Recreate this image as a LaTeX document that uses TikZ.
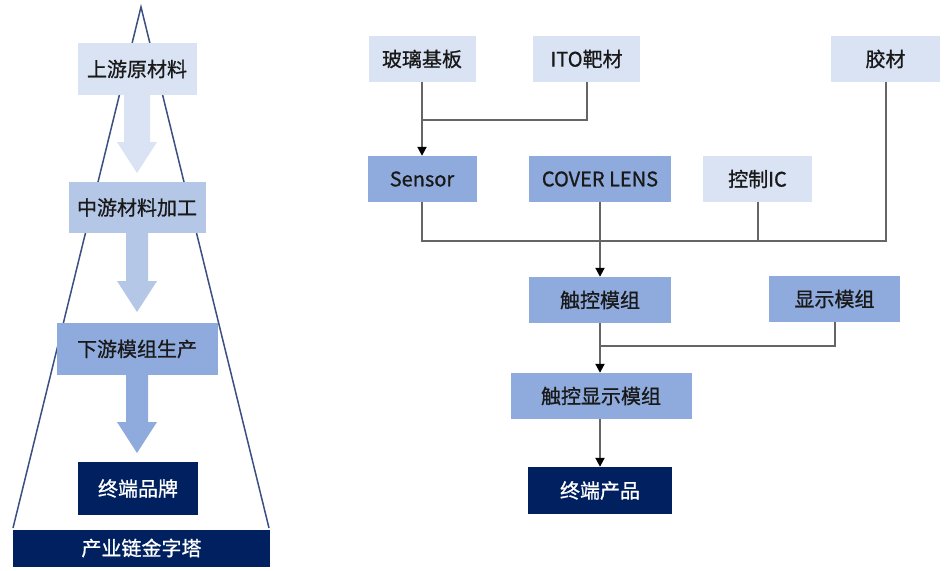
\documentclass[tikz,border=0pt]{standalone}
\usepackage{fontspec}
\setmainfont{Noto Sans CJK SC}
\newfontfamily\boxfont{Noto Sans CJK SC}[FakeBold=0.9]
\usetikzlibrary{arrows.meta}
\definecolor{lvA}{HTML}{DAE3F3}
\definecolor{lvB}{HTML}{B4C7E7}
\definecolor{lvC}{HTML}{8FAADC}
\definecolor{navy}{HTML}{002060}
\definecolor{pyr}{HTML}{3B4F80}
\definecolor{wire}{HTML}{656565}
\tikzset{
  box/.style={inner sep=0pt, text=black!90, font=\boxfont\fontsize{20}{23}\selectfont},
  lightbox/.style={box, fill=lvA},
  midbox/.style={box, fill=lvB},
  medbox/.style={box, fill=lvC},
  darkbox/.style={box, fill=navy, text=white},
  wireline/.style={draw=wire, line width=2pt},
  wirearrow/.style={wireline, -{Triangle[width=9pt,length=9pt,fill=black,color=black]}},
}
\begin{document}
\begin{tikzpicture}[x=1pt,y=-1pt]
\useasboundingbox[fill=white] (0,0) rectangle (947,570);
% pyramid outline
\draw[pyr, line width=1.5pt, line join=miter] (13,528) -- (141,7) -- (269,528);
% left boxes
\node[lightbox, minimum width=119pt, minimum height=52pt] (u) at (137,69) {上游原材料};
\node[midbox, minimum width=137pt, minimum height=51pt] (m) at (137,207.5) {中游材料加工};
\node[medbox, minimum width=161pt, minimum height=52pt] (d) at (137,349) {下游模组生产};
\node[darkbox, minimum width=120pt, minimum height=53pt] (b) at (138,488.5) {终端品牌};
\node[darkbox, minimum width=257pt, minimum height=37pt] (bar) at (141.5,548) {产业链金字塔};
% fat arrows
\fill[lvA] (124,95) -- (150,95) -- (150,142) -- (157,142) -- (137,173) -- (117,142) -- (124,142) -- cycle;
\fill[lvB] (126,233) -- (148,233) -- (148,281) -- (157,281) -- (137,312) -- (117,281) -- (126,281) -- cycle;
\fill[lvC] (126,375) -- (148,375) -- (148,422) -- (157,422) -- (137,453) -- (117,422) -- (126,422) -- cycle;
% right boxes
\node[lightbox, minimum width=107pt, minimum height=46pt] (glass) at (422,59) {玻璃基板};
\node[lightbox, minimum width=107pt, minimum height=46pt] (ito) at (586.5,59) {ITO靶材};
\node[lightbox, minimum width=109pt, minimum height=46pt] (glue) at (885.5,59) {胶材};
\node[medbox, minimum width=109pt, minimum height=46pt] (sensor) at (422,179) {Sensor};
\node[medbox, minimum width=142pt, minimum height=46pt] (cover) at (600,179) {COVER LENS};
\node[lightbox, minimum width=109pt, minimum height=46pt] (ic) at (757.5,179) {控制IC};
\node[medbox, minimum width=142pt, minimum height=46pt] (touch) at (600,300) {触控模组};
\node[medbox, minimum width=131pt, minimum height=46pt] (disp) at (834.5,299) {显示模组};
\node[medbox, minimum width=181pt, minimum height=46pt] (tdm) at (601,396) {触控显示模组};
\node[darkbox, minimum width=144pt, minimum height=47pt] (prod) at (600,490.5) {终端产品};
% junction coordinates
\coordinate (j1) at (422,120);
\coordinate (bus) at (600,241);
\coordinate (j2) at (600,346);
% connectors
\draw[wirearrow] (glass.south) -- (sensor.north);
\draw[wireline] (ito.south) |- (j1);
\draw[wireline] (sensor.south) |- (bus) -| (glue.south);
\draw[wireline] (ic.south) -- (ic.south |- bus);
\draw[wirearrow] (cover.south) -- (touch.north);
\draw[wireline] (disp.south) |- (j2);
\draw[wirearrow] (touch.south) -- (touch.south |- tdm.north);
\draw[wirearrow] (tdm.south -| prod.north) -- (prod.north);
\end{tikzpicture}
\end{document}
